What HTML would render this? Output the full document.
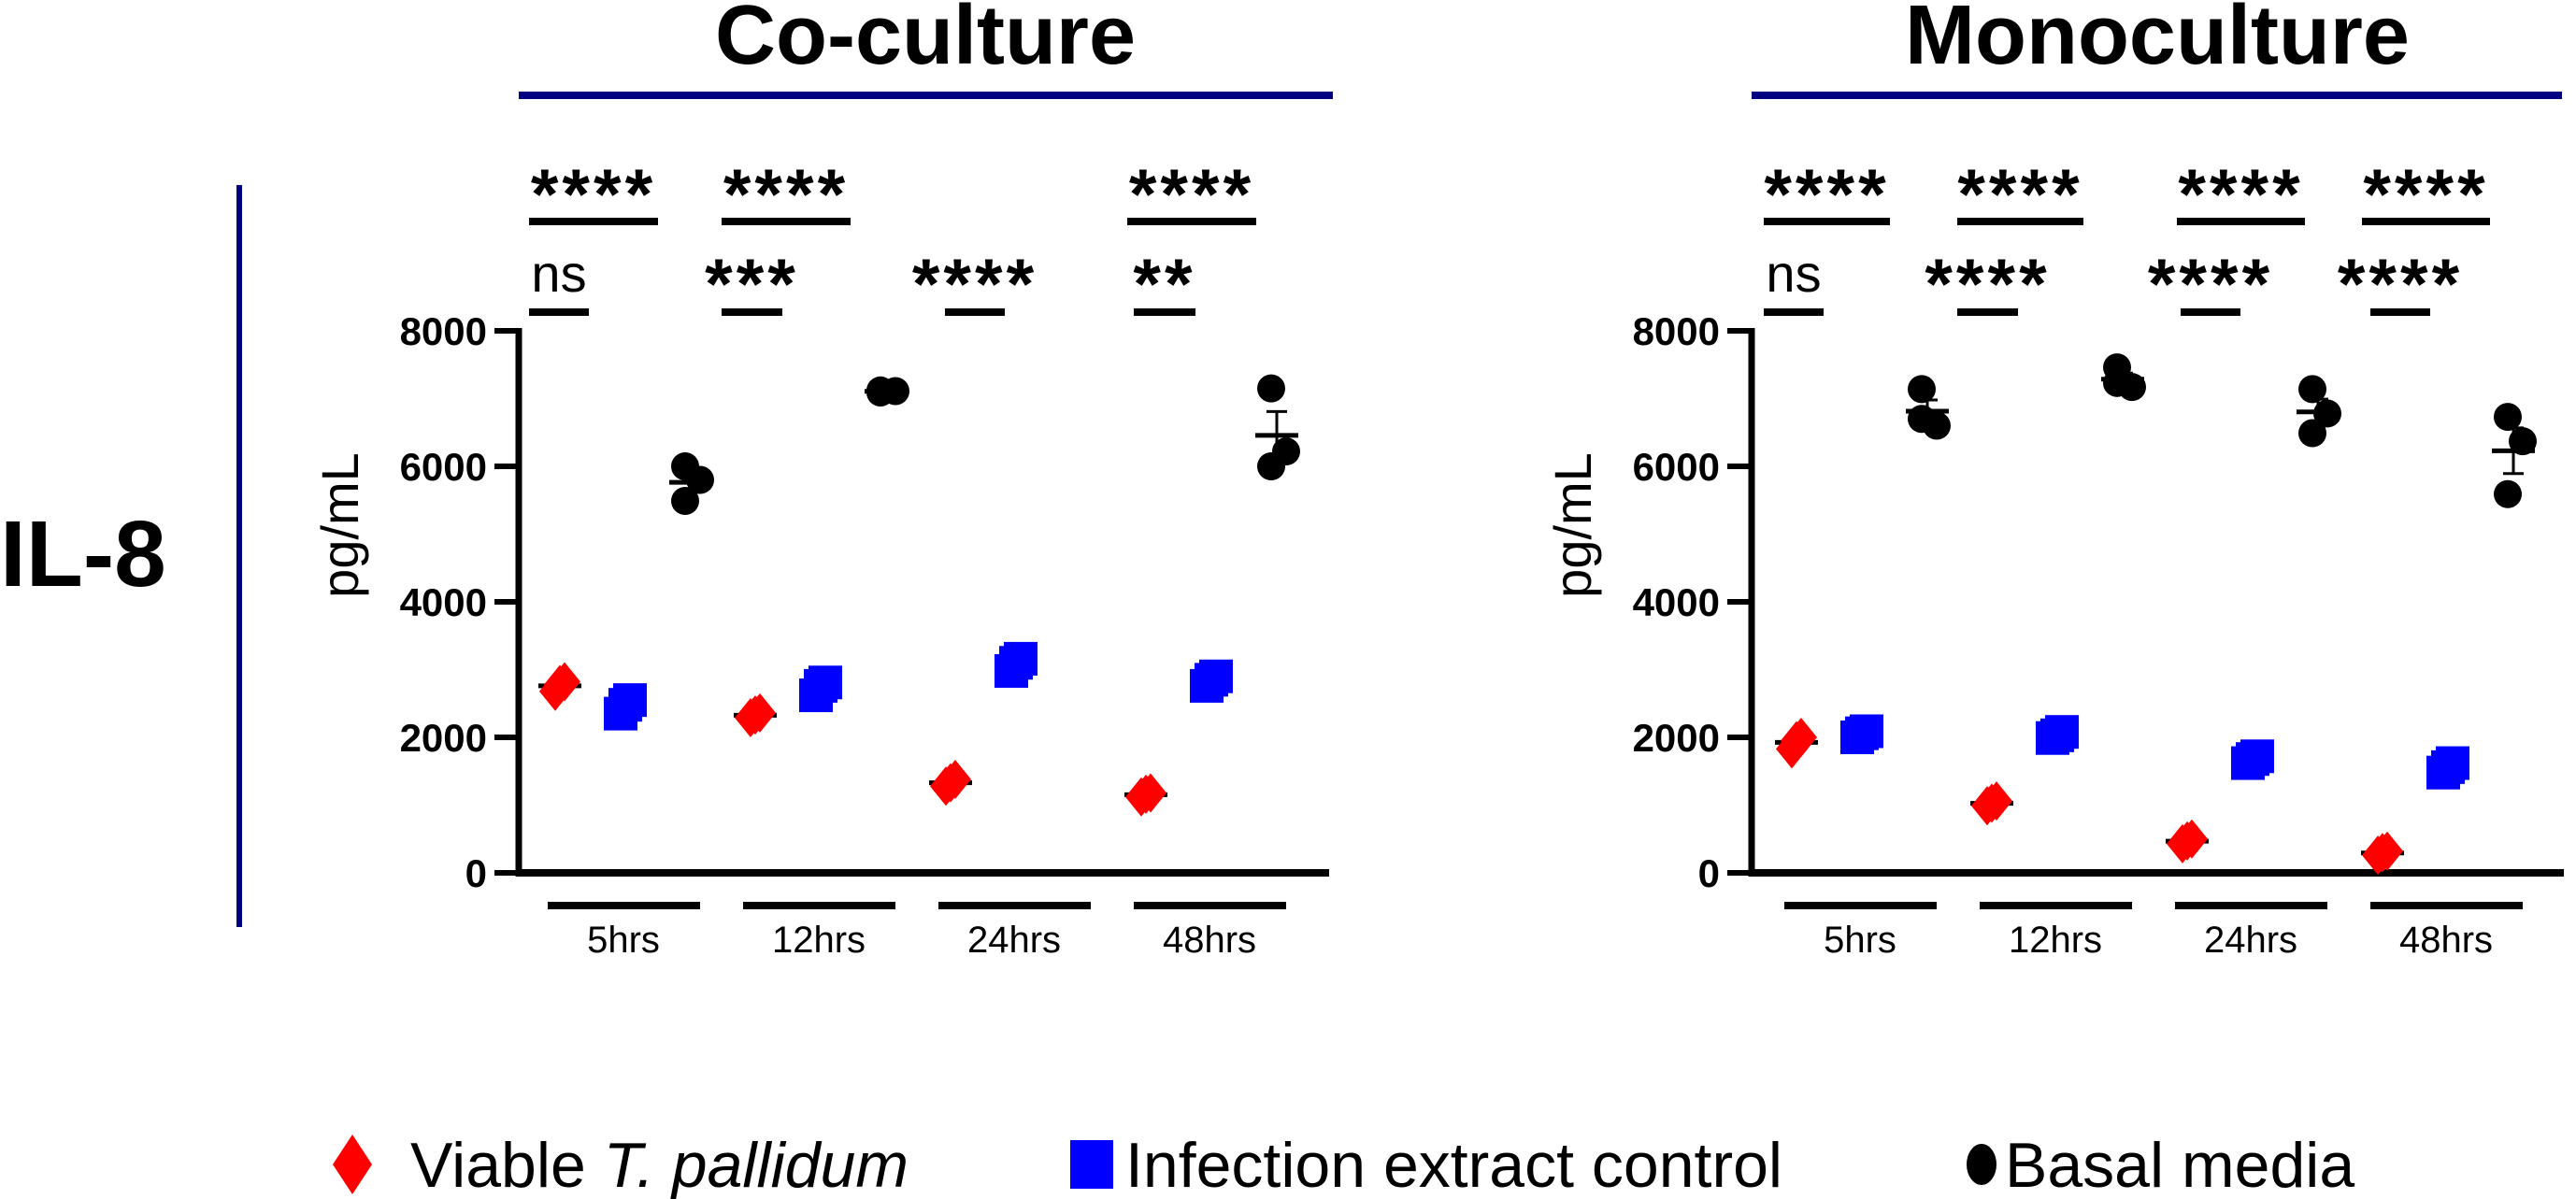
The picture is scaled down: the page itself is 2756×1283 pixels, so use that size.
<!DOCTYPE html>
<html><head><meta charset="utf-8"><style>
html,body{margin:0;padding:0;background:#fff;}
svg{display:block;font-family:"Liberation Sans",Arial,sans-serif;}
</style></head><body>
<svg id="fig" width="2756" height="1283" viewBox="0 0 2756 1283">
  <text x="990" y="68" text-anchor="middle" font-size="90" font-weight="bold">Co-culture</text>
  <rect x="555" y="98" width="871" height="8" fill="#000080"/>
  <text x="2308" y="68" text-anchor="middle" font-size="90" font-weight="bold">Monoculture</text>
  <rect x="1874" y="98" width="867" height="8" fill="#000080"/>
  <rect x="253" y="198" width="6" height="794" fill="#000080"/>
  <text x="0" y="627" font-size="100" font-weight="bold">IL-8</text>
  <g id="legend">
    <polygon points="377,1214 398,1246 377,1278 356,1246" fill="#ff0000"/>
    <text x="439" y="1270" font-size="68">Viable <tspan font-style="italic">T. pallidum</tspan></text>
    <rect x="1145" y="1220" width="46" height="52" fill="#0000ff"/>
    <text x="1204" y="1270" font-size="68">Infection extract control</text>
    <ellipse cx="2120" cy="1246" rx="16" ry="22" fill="#000"/>
    <text x="2145" y="1270" font-size="68">Basal media</text>
  </g>
</svg>
<script>
const categories = ["5hrs","12hrs","24hrs","48hrs"];
const yTicks = [0,2000,4000,6000,8000];
const yTickLabels = ["0","2000","4000","6000","8000"];
const coViable = [[2680,2780,2820],[2290,2330,2360],[1280,1330,1380],[1120,1160,1180]];
const coControl = [[2350,2480,2550],[2620,2760,2810],[2980,3100,3160],[2760,2850,2900]];
const coBasal = [[6000,5800,5490],[7090,7110,7120],[],[7150,6220,6000]];
const monoViable = [[1830,1950,2000],[990,1030,1060],[430,470,500],[260,300,320]];
const monoControl = [[2000,2060,2090],[1990,2030,2080],[1620,1680,1720],[1480,1560,1620]];
const monoBasal = [[7140,6600,6700],[7460,7170,7230],[7140,6780,6490],[6730,6370,5590]];
const coTopSig = ["****","****","","****"];
const coBottomSig = ["ns","***","****","**"];
const monoTopSig = ["****","****","****","****"];
const monoBottomSig = ["ns","****","****","****"];

const NS = "http://www.w3.org/2000/svg";
const svg = document.getElementById("fig");
function mk(tag, attrs, parent){
  const e = document.createElementNS(NS, tag);
  for (const k in attrs) e.setAttribute(k, attrs[k]);
  (parent||svg).appendChild(e);
  return e;
}
function yScale(v){ return 934 - v/8000*580; }
function mean(a){ return a.reduce((s,x)=>s+x,0)/a.length; }
function sem(a){ const m=mean(a); const sd=Math.sqrt(a.reduce((s,x)=>s+(x-m)*(x-m),0)/(a.length-1)); return sd/Math.sqrt(a.length); }

function panel(cfg){
  const g = mk("g", {});
  
  
  const ax = cfg.axisX;
  const xc = i => cfg.firstCenter + i*209;
  const yl = mk("line", {x1:ax, y1:yScale(8000)-3, x2:ax, y2:yScale(0)+4, stroke:"#000","stroke-width":7}, g);
  
  
  const xl = mk("line", {x1:ax-3, y1:yScale(0), x2:cfg.axisEnd, y2:yScale(0), stroke:"#000","stroke-width":8}, g);
  
  
  yTicks.forEach((t,i)=>{
    const tk = mk("line", {x1:ax-26, y1:yScale(t), x2:ax, y2:yScale(t), stroke:"#000","stroke-width":6}, g);
    
    
    const tl = mk("text", {x:ax-34, y:yScale(t)+15, "text-anchor":"end","font-size":42,"font-weight":"bold"}, g);
    tl.textContent = yTickLabels[i];
    
    
  });
  const yt = mk("text", {x:0, y:0, "text-anchor":"middle","font-size":56, transform:`translate(${ax-172},562) rotate(-90)`}, g);
  yt.textContent = "pg/mL";
  
  
  categories.forEach((c,i)=>{
    const cx = xc(i);
    const gb = mk("rect", {x:cx-81, y:965, width:163, height:8, fill:"#000"}, g);
    
    
    const gl = mk("text", {x:cx, y:1019, "text-anchor":"middle","font-size":40}, g);
    gl.textContent = c;
    
    
    const series = [
      {vals:cfg.viable[i], off:-68, kind:"diamond", fill:"#ff0000", nm:"viable-point"},
      {vals:cfg.control[i], off:2, kind:"square", fill:"#0000ff", nm:"control-point"},
      {vals:cfg.basal[i], off:72, kind:"circle", fill:"#000", nm:"basal-point"}
    ];
    const jit = [-6, 10, -6];
    series.forEach(s=>{
      if (!s.vals.length) return;
      const sx = cx + s.off;
      const m = mean(s.vals);
      s.vals.forEach((v,k)=>{
        const px = sx + (s.kind==="circle" ? jit[k] : (k-1)*5);
        const py = yScale(v);
        let e;
        if (s.kind==="diamond") e = mk("polygon", {points:`${px},${py-21} ${px+17},${py} ${px},${py+21} ${px-17},${py}`, fill:s.fill}, g);
        else if (s.kind==="square") e = mk("rect", {x:px-18, y:py-18, width:36, height:36, fill:s.fill}, g);
        else e = mk("circle", {cx:px, cy:py, r:15, fill:s.fill}, g);
        
        
      });
      if (s.kind==="circle"){
        const se = sem(s.vals);
        const eb = mk("path", {d:`M${sx},${yScale(m+se)} V${yScale(m-se)} M${sx-11},${yScale(m+se)} H${sx+11} M${sx-11},${yScale(m-se)} H${sx+11}`, stroke:"#000","stroke-width":3, fill:"none"}, g);
        
        
      }
      const ml = mk("line", {x1:sx-23, y1:yScale(m), x2:sx+23, y2:yScale(m), stroke:"#000","stroke-width":5}, g);
      
      
      if (s.kind!=="circle") g.insertBefore(ml, g.firstChild);
    });
  });
  cfg.top.forEach((b,i)=>{
    if (!cfg.topSig[i]) return;
    const l = mk("rect", {x:b[0], y:233, width:b[1]-b[0], height:8, fill:"#000"}, g);
    
    
    const t = mk("text", {x:(b[0]+b[1])/2, y:234, "text-anchor":"middle","font-size":76,"font-weight":"bold","letter-spacing":4}, g);
    t.textContent = cfg.topSig[i];
    
    
  });
  cfg.bottom.forEach((b,i)=>{
    const l = mk("rect", {x:b[0], y:330, width:b[1]-b[0], height:8, fill:"#000"}, g);
    
    
    const isNs = cfg.bottomSig[i]==="ns";
    const t = mk("text", {x:(b[0]+b[1])/2, y:isNs?312:330, "text-anchor":"middle","font-size":isNs?56:76,"font-weight":isNs?"normal":"bold","letter-spacing":isNs?0:4}, g);
    t.textContent = cfg.bottomSig[i];
    
    
  });
}
panel({name:"co-culture-chart", axisX:555, axisEnd:1422, firstCenter:667,
  viable:coViable, control:coControl, basal:coBasal, topSig:coTopSig, bottomSig:coBottomSig,
  top:[[566,704],[772,910],[0,0],[1206,1344]], bottom:[[566,630],[772,837],[1011,1075],[1213,1279]]});
panel({name:"monoculture-chart", axisX:1874, axisEnd:2743, firstCenter:1990,
  viable:monoViable, control:monoControl, basal:monoBasal, topSig:monoTopSig, bottomSig:monoBottomSig,
  top:[[1887,2022],[2094,2229],[2329,2466],[2527,2664]], bottom:[[1887,1951],[2094,2159],[2333,2397],[2536,2600]]});
</script>
</body></html>
